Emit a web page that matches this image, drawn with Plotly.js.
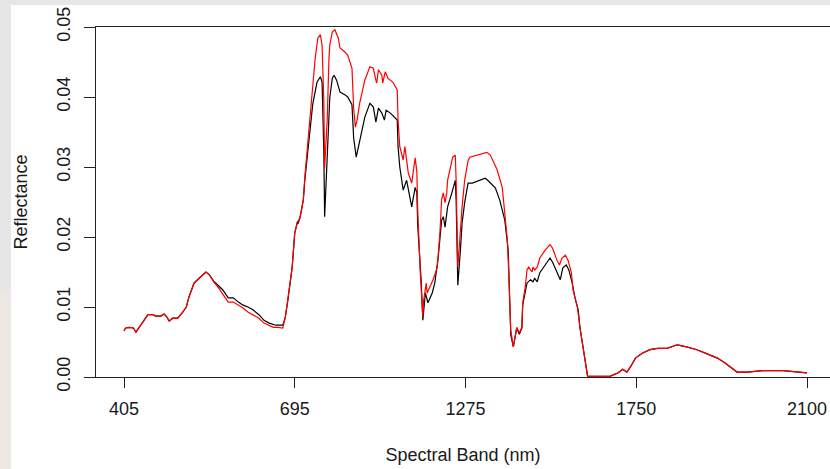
<!DOCTYPE html>
<html>
<head>
<meta charset="utf-8">
<script src="https://cdn.plot.ly/plotly-3.0.1.min.js"></script>
<style>
  html, body { margin: 0; padding: 0; width: 830px; height: 469px; overflow: hidden; background: #e6e6e6; }
  #beige { position: absolute; left: 0; top: 291px; width: 11px; height: 178px; background: #ebe8e2; }
  #chart { position: absolute; left: 11px; top: 5px; width: 819px; height: 464px; background: #ffffff; }
</style>
</head>
<body>
<div id="beige"></div>
<div id="chart"></div>
<script>
// Band index positions and tick labels (wavelength, nm)
const bandTicks = [0, 200, 400, 600, 800];
const bandLabels = ["405", "695", "1275", "1750", "2100"];

// Black spectrum
const blackBand = [0,2,6,11,14,18,22,28,34,37,43,47,50,53,57,63,69,73,76,82,88,93,96,100,
  105,111,116,122,128,134,139,145,151,158,164,170,178,186,189,192,197,200,203,204,206,208,210,
  212,218,221,226,230,232,234,235,238,241,244,246,249,253,259,262,267,269,272,276,282,288,292,
  295,298,302,305,307,312,320,321,323,327,331,335,337,341,343,344,348,350,353,356,361,364,368,
  372,374,376,379,384,388,389,391,394,396,399,403,408,413,423,426,435,440,446,450,452,453,456,
  458,460,463,466,467,470,472,476,479,481,484,487,493,499,502,507,511,514,518,521,525,528,532,
  534,538,541,543,558,569,579,584,589,593,599,607,616,625,636,648,659,671,683,695,704,712,718,
  730,748,772,788,800];
const blackRefl = [0.0066,0.0070,0.0071,0.0070,0.0064,0.0071,0.0079,0.0089,0.0089,0.0087,0.0087,0.0090,0.0086,0.0080,0.0084,0.0084,0.0093,0.0100,0.0114,0.0134,0.0141,0.0146,0.0150,0.0146,
  0.0137,0.0130,0.0124,0.0113,0.0113,0.0107,0.0103,0.0100,0.0096,0.0089,0.0081,0.0077,0.0074,0.0074,0.0086,0.0110,0.0157,0.0206,0.0221,0.0220,0.0227,0.0239,0.0253,
  0.0284,0.0350,0.0389,0.0421,0.0429,0.0421,0.0324,0.0229,0.0310,0.0399,0.0427,0.0431,0.0424,0.0407,0.0403,0.0400,0.0389,0.0341,0.0314,0.0339,0.0371,0.0391,0.0386,
  0.0364,0.0384,0.0377,0.0367,0.0381,0.0377,0.0367,0.0329,0.0300,0.0267,0.0281,0.0257,0.0243,0.0271,0.0263,0.0217,0.0139,0.0081,0.0120,0.0106,0.0120,0.0134,0.0171,
  0.0224,0.0229,0.0214,0.0243,0.0263,0.0281,0.0253,0.0131,0.0181,0.0220,0.0249,0.0277,0.0277,0.0279,0.0284,0.0281,0.0270,0.0253,0.0224,0.0181,0.0110,0.0060,0.0043,
  0.0056,0.0070,0.0061,0.0070,0.0103,0.0124,0.0134,0.0139,0.0136,0.0141,0.0136,0.0149,0.0160,0.0170,0.0164,0.0150,0.0139,0.0156,0.0160,0.0153,0.0134,0.0114,0.0096,
  0.0071,0.0039,0.0010,0.0001,0.0001,0.0001,0.0006,0.0011,0.0007,0.0014,0.0027,0.0034,0.0039,0.0041,0.0041,0.0046,0.0043,0.0039,0.0033,0.0027,0.0020,0.0013,0.0007,
  0.0007,0.0009,0.0009,0.0007,0.0006];

// Red spectrum
const redBand = [0,2,6,11,14,18,22,28,34,37,43,47,50,53,57,63,69,73,76,82,88,93,96,100,
  105,111,117,122,128,134,139,145,151,158,164,169,175,180,186,189,192,197,200,203,206,208,210,
  212,216,220,224,227,230,232,234,235,238,240,241,244,247,251,253,259,262,267,269,271,273,276,
  282,288,292,295,296,298,302,303,306,309,315,320,321,323,327,329,333,337,341,343,344,347,349,
  350,351,354,355,358,362,367,370,372,374,376,378,379,382,385,388,389,391,394,396,399,403,405,
  413,425,429,437,443,446,449,450,452,453,456,458,460,463,466,467,470,472,474,478,479,481,484,
  487,493,499,502,507,510,513,517,520,524,526,531,534,538,541,543,558,569,579,584,589,593,599,
  607,616,625,636,648,659,671,683,695,704,712,718,730,748,772,788,800];
const redRefl = [0.0066,0.0070,0.0071,0.0070,0.0064,0.0071,0.0079,0.0089,0.0089,0.0087,0.0087,0.0090,0.0086,0.0080,0.0084,0.0084,0.0093,0.0100,0.0114,0.0134,0.0141,0.0146,0.0150,0.0146,
  0.0136,0.0127,0.0117,0.0107,0.0107,0.0103,0.0099,0.0093,0.0089,0.0084,0.0077,0.0074,0.0071,0.0071,0.0070,0.0086,0.0110,0.0157,0.0206,0.0221,0.0227,0.0239,0.0253,
  0.0289,0.0346,0.0407,0.0456,0.0484,0.0489,0.0474,0.0396,0.0299,0.0367,0.0453,0.0474,0.0493,0.0496,0.0484,0.0470,0.0464,0.0460,0.0441,0.0384,0.0357,0.0367,0.0391,
  0.0424,0.0443,0.0441,0.0424,0.0420,0.0439,0.0431,0.0420,0.0436,0.0427,0.0421,0.0410,0.0367,0.0329,0.0310,0.0329,0.0291,0.0277,0.0313,0.0293,0.0239,0.0149,0.0110,
  0.0086,0.0110,0.0134,0.0120,0.0129,0.0139,0.0157,0.0206,0.0253,0.0263,0.0249,0.0263,0.0281,0.0300,0.0314,0.0317,0.0281,0.0157,0.0210,0.0243,0.0281,0.0309,0.0314,
  0.0317,0.0321,0.0317,0.0296,0.0271,0.0236,0.0196,0.0167,0.0110,0.0067,0.0043,0.0057,0.0071,0.0063,0.0071,0.0106,0.0129,0.0153,0.0157,0.0150,0.0157,0.0153,0.0157,
  0.0170,0.0181,0.0189,0.0184,0.0167,0.0160,0.0170,0.0174,0.0167,0.0149,0.0124,0.0100,0.0071,0.0039,0.0010,0.0001,0.0001,0.0001,0.0006,0.0011,0.0007,0.0014,0.0027,
  0.0034,0.0039,0.0041,0.0041,0.0046,0.0043,0.0039,0.0033,0.0027,0.0020,0.0013,0.0007,0.0007,0.0009,0.0009,0.0007,0.0006];

const yTicks = [0, 0.01, 0.02, 0.03, 0.04, 0.05];
const yLabels = ["0.00", "0.01", "0.02", "0.03", "0.04", "0.05"];

const fontFam = "Liberation Sans, Arial, Helvetica, sans-serif";
const txtColor = "#1a1a1a";
const fs = 18;

const traces = [
  { x: blackBand, y: blackRefl, type: "scatter", mode: "lines",
    line: { color: "#000000", width: 1.2 }, hoverinfo: "skip", showlegend: false },
  { x: redBand, y: redRefl, type: "scatter", mode: "lines",
    line: { color: "#ff0000", width: 1.2 }, hoverinfo: "skip", showlegend: false }
];

const layout = {
  width: 819, height: 464,
  margin: { l: 85, r: 0, t: 22, b: 92 },
  paper_bgcolor: "#ffffff", plot_bgcolor: "#ffffff",
  font: { family: fontFam, size: fs, color: txtColor },
  showlegend: false,
  xaxis: {
    range: [-32.8, 826.9],
    tickmode: "array", tickvals: bandTicks, ticktext: bandLabels,
    ticks: "outside", ticklen: 10, tickwidth: 1, tickcolor: "#222",
    showline: true, linecolor: "#222", linewidth: 1, mirror: true,
    showgrid: false, zeroline: false,
    ticklabelstandoff: 5,
    tickfont: { family: fontFam, size: fs, color: txtColor },
    title: { text: "Spectral Band (nm)", standoff: 30, font: { family: fontFam, size: fs, color: txtColor } }
  },
  yaxis: {
    range: [0, 0.05],
    tickmode: "array", tickvals: yTicks, ticktext: yLabels,
    ticks: "outside", ticklen: 11, tickwidth: 1, tickcolor: "#222",
    tickangle: -90,
    showline: true, linecolor: "#222", linewidth: 1,
    showgrid: false, zeroline: false,
    ticklabelstandoff: 7,
    tickfont: { family: fontFam, size: fs, color: txtColor },
    title: { text: "Reflectance", standoff: 26, font: { family: fontFam, size: fs, color: txtColor } }
  }
};

Plotly.newPlot("chart", traces, layout, { displayModeBar: false, staticPlot: true });
</script>
</body>
</html>
